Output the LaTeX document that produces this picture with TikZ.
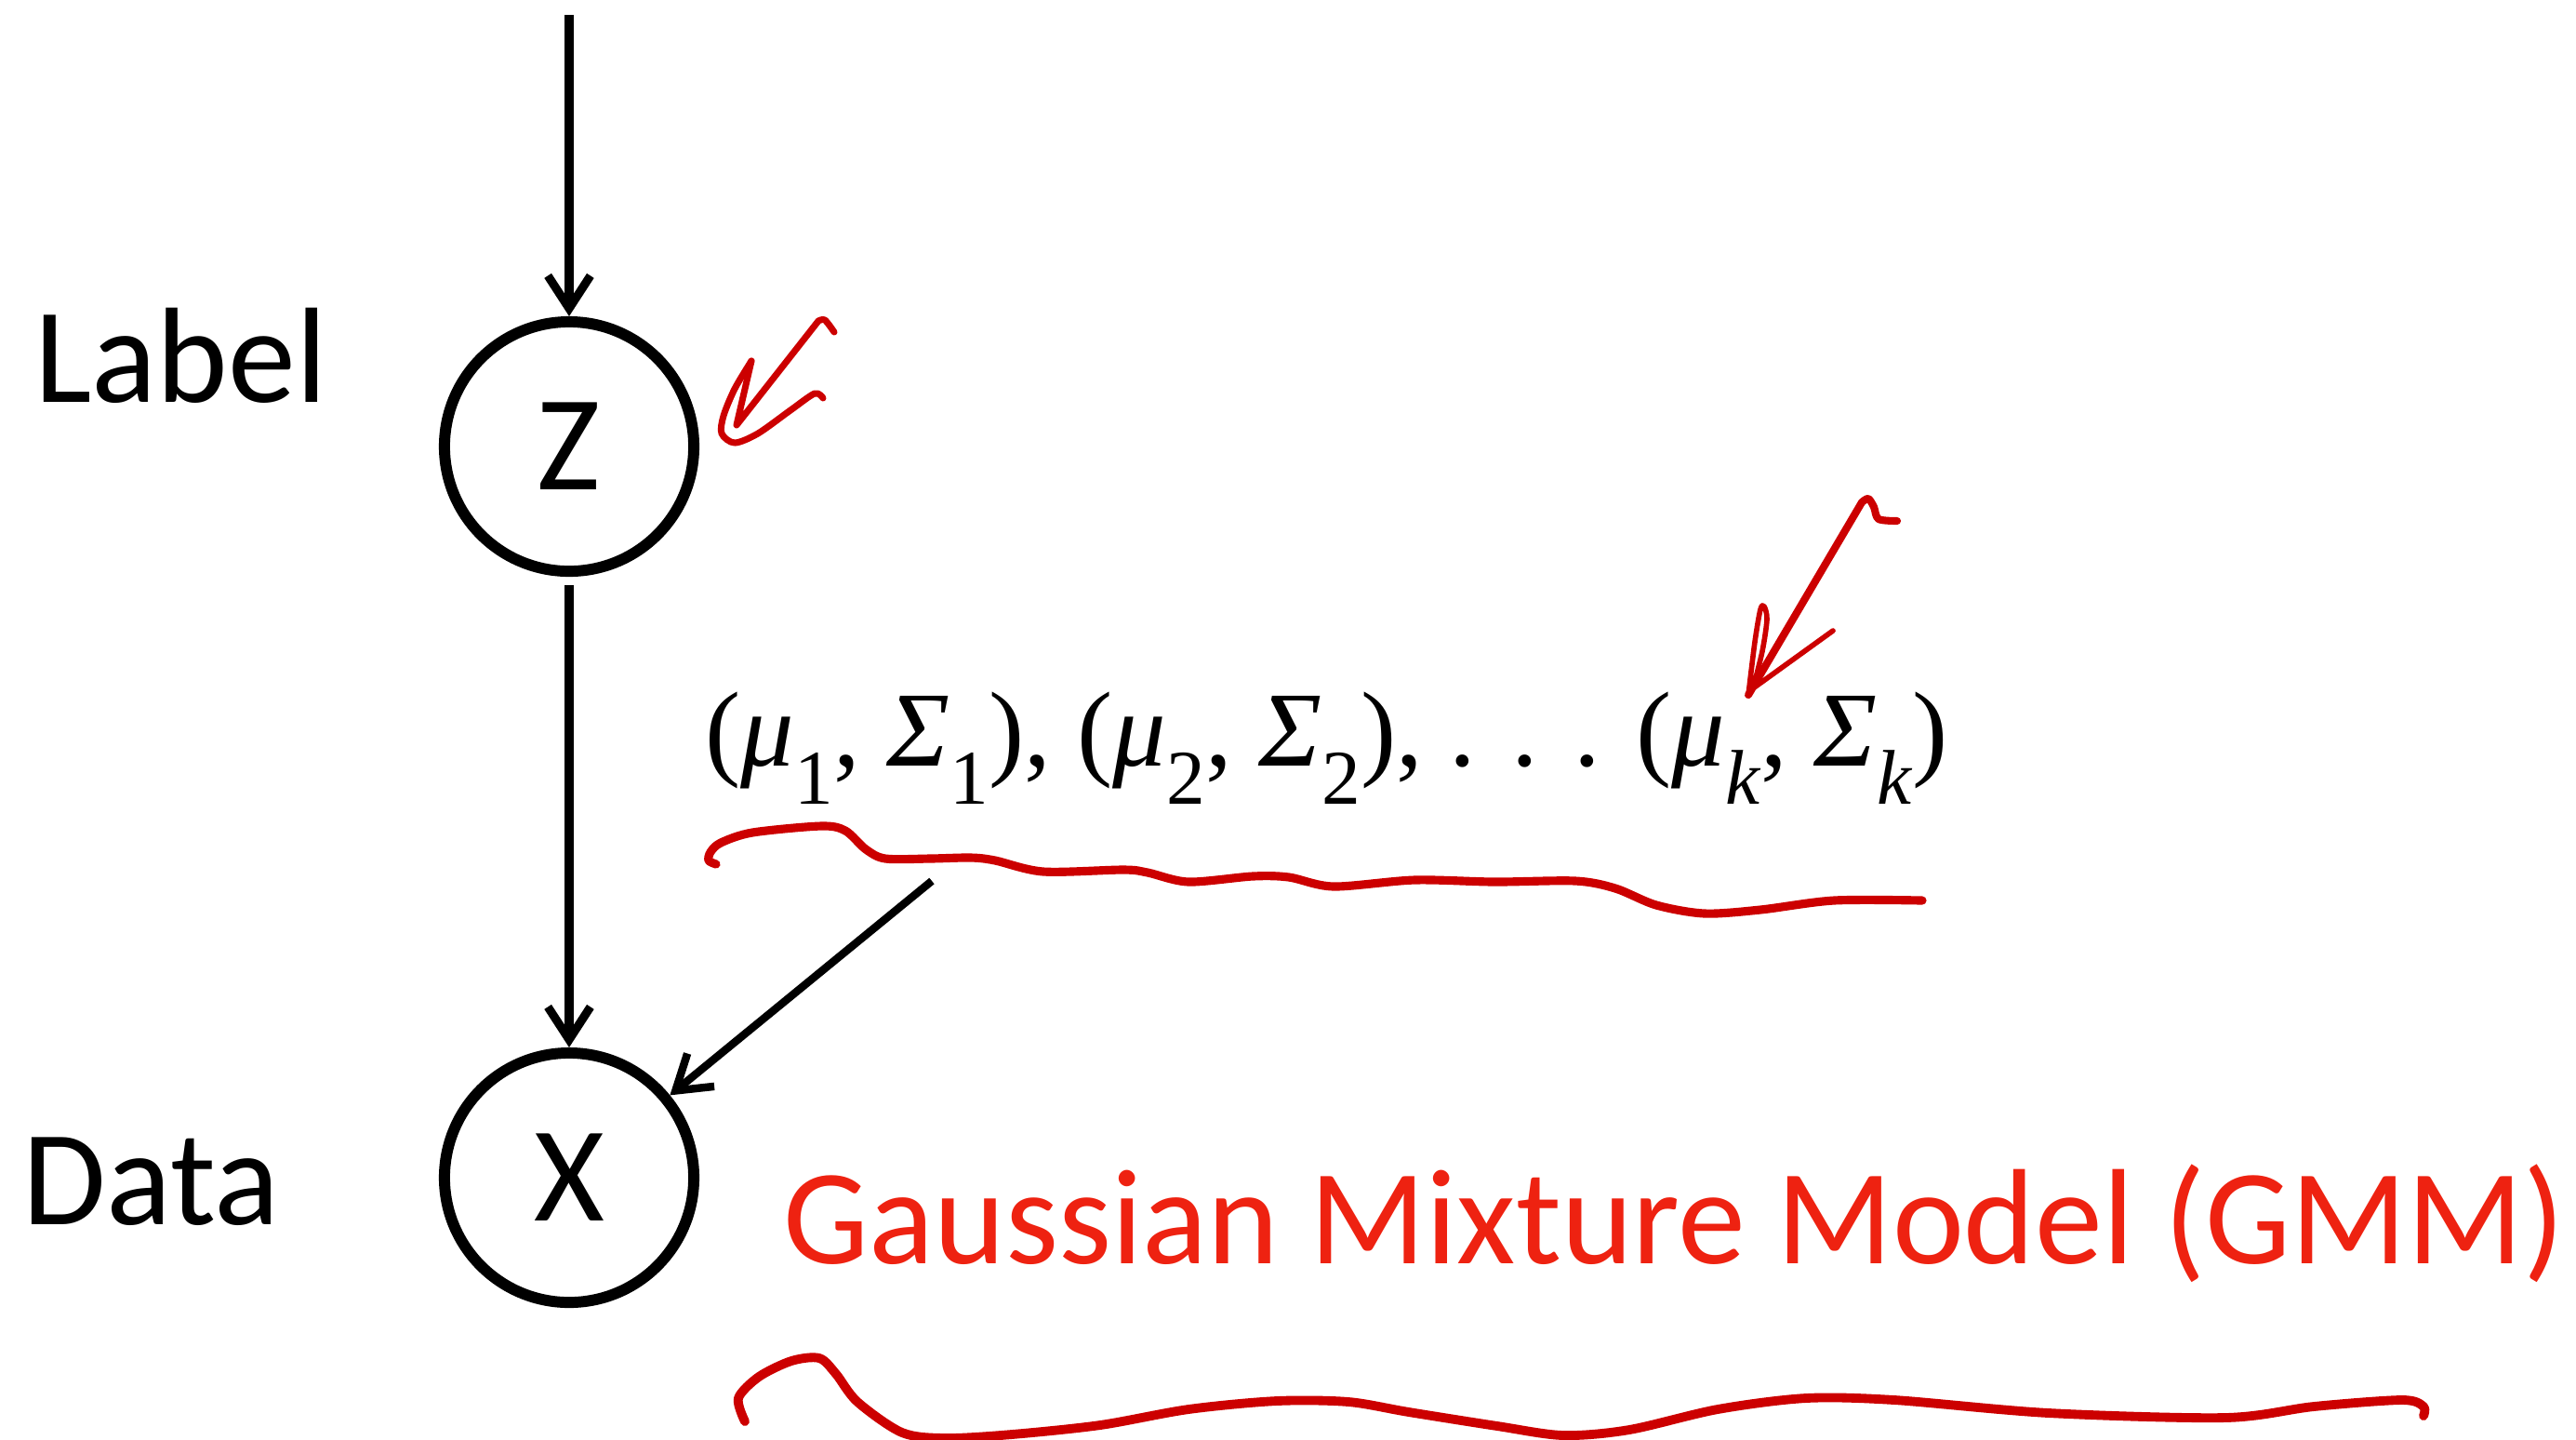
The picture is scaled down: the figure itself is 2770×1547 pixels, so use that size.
\documentclass[tikz,border=0pt]{standalone}
\usepackage{fontspec}
\setmainfont{Carlito}
\newfontfamily\tmsfont{Liberation Serif}
\usetikzlibrary{arrows.meta}
\definecolor{gmmred}{RGB}{238,34,17}
\definecolor{penred}{RGB}{204,0,0}
\newcommand\lsub[1]{\raisebox{-0.36em}{\fontsize{23.7}{24}\selectfont #1}}

\begin{document}
\begin{tikzpicture}[x=0.01cm,y=-0.01cm,font=\fontsize{41.5}{48}\selectfont]
\tikzset{var/.style={draw,circle,line width=3.4pt,minimum size=2.68cm,inner sep=0pt},
  tag/.style={anchor=base west,inner sep=0pt},
  arr/.style={-{Straight Barb[length=10pt,width=13pt]},line width=2.6pt},
  scrib/.style={draw=penred,line width=2pt,line cap=round,line join=round}}
\useasboundingbox (0,0) rectangle (2770,1547);
\node[var] (z) at (612,480) {Z};
\node[var] (x) at (612,1266) {X};
\node[tag] (lbl) at (37,432) {Label};
\node[tag] (dat) at (24,1316) {Data};
\node[tag] (prs) at (758,823) {\tmsfont\fontsize{32.6}{33}\selectfont (\textit{μ}\lsub{1}, \textit{Σ}\lsub{1}), (\textit{μ}\lsub{2}, \textit{Σ}\lsub{2}), . . . (\textit{μ}\lsub{\textit{k}}, \textit{Σ}\lsub{\textit{k}})};
\node[tag,text=gmmred] (gmm) at (842,1358) {Gaussian Mixture Model (GMM)};
\coordinate (top) at (612,16);
\coordinate (prm) at (1002,947);
\draw[arr] (top) -- (z);
\draw[arr,shorten <=2.6pt] (z) -- (x);
\draw[arr,line width=2.4pt] (prm) -- (x);
\draw[scrib] plot[smooth,tension=0.5] coordinates {(897,357) (887,344) (880,345)} -- (792,457) -- (808,388);
\draw[scrib] plot[smooth] coordinates {(808,388) (790,418) (778,447) (776,466) (790,476) (815,466) (850,441) (876,423) (885,428)};
\draw[scrib,line width=2.3pt] plot[smooth,tension=0.5] coordinates {(2040,560) (2020,558) (2015,545) (2009,536) (2002,540)} -- (1880,747);
\draw[scrib,line width=1.6pt] plot[smooth] coordinates {(1880,747) (1887,690) (1893,655) (1897,652) (1900,666) (1895,700) (1885,740)} -- (1971,678);
\draw[scrib,line width=2.6pt] plot[smooth] coordinates {(770,929) (762,925) (764,916) (775,906) (809,895) (883,888) (909,893) (931,913) (952,923) (1000,923) (1044,922) (1070,925) (1122,937) (1208,935) (1234,938) (1278,948) (1347,942) (1386,943) (1434,953) (1521,946) (1607,948) (1694,947) (1737,955) (1781,973) (1833,982) (1893,978) (1972,968) (2067,968)};
\draw[scrib,line width=2.8pt] plot[smooth] coordinates {(801,1528) (794,1503) (816,1480) (851,1463) (881,1460) (899,1477) (922,1507) (970,1540) (1017,1546) (1088,1542) (1183,1532) (1278,1515) (1373,1506) (1450,1507) (1515,1518) (1610,1533) (1681,1543) (1752,1537) (1847,1515) (1942,1503) (2037,1505) (2203,1519) (2393,1524) (2488,1512) (2583,1505) (2606,1512) (2606,1522)};
\end{tikzpicture}
\end{document}
